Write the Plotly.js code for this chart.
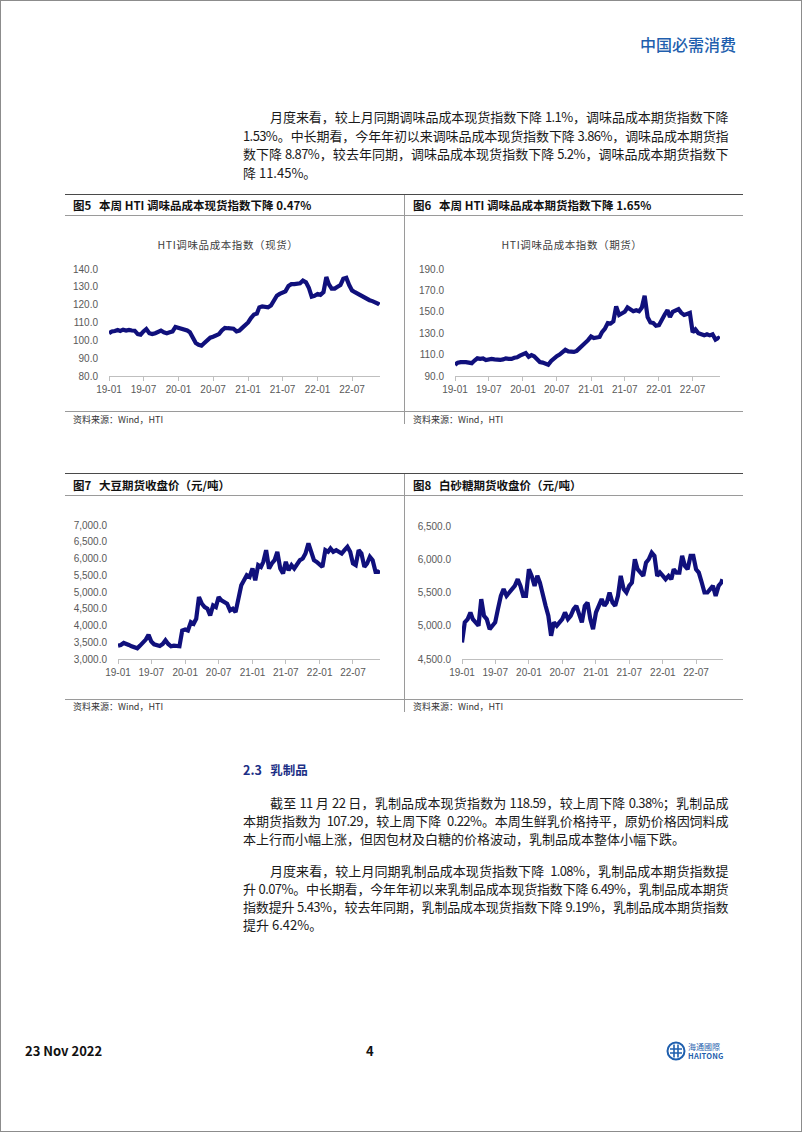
<!DOCTYPE html>
<html lang="zh-CN">
<head>
<meta charset="utf-8">
<script src="https://cdn.plot.ly/plotly-3.0.1.min.js"></script>
<style>
  html,body{margin:0;padding:0;background:#fff;}
  #page{position:relative;width:802px;height:1132px;overflow:hidden;background:#fff;font-family:"Noto Sans CJK SC","Noto Sans",sans-serif;color:#111;}
  .abs{position:absolute;}
  .frame{position:absolute;left:0;top:0;width:802px;height:1132px;box-sizing:border-box;border:1px solid #8c8c8c;}
  .ln{position:absolute;left:243px;width:485px;font-size:13px;line-height:18px;height:18px;text-align:justify;text-align-last:justify;letter-spacing:-0.6px;color:#1a1a1a;white-space:normal;}
  .ln.ind{left:270px;width:458px;}
  .ln.last{text-align:left;text-align-last:left;letter-spacing:0;}
  .hl{position:absolute;height:0;}
  .vl{position:absolute;width:0;}
  .ftitle{position:absolute;font-size:11.5px;font-weight:700;color:#111;white-space:nowrap;line-height:14px;}
  .src{position:absolute;font-size:9px;color:#333;white-space:nowrap;line-height:11px;}
  .ctitle{position:absolute;font-size:10.5px;color:#404040;white-space:nowrap;line-height:13px;letter-spacing:0.6px;transform:translateX(-50%);}
  .chart{position:absolute;}
</style>
</head>
<body>
<div id="page">
  <div class="frame"></div>

  <div class="abs" style="left:640px;top:34px;font-size:16px;font-weight:500;color:#1f5fae;white-space:nowrap;line-height:20px;">中国必需消费</div>

  <div class="ln ind" style="top:108px;">月度来看，较上月同期调味品成本现货指数下降 1.1%，调味品成本期货指数下降</div>
  <div class="ln" style="top:126.5px;">1.53%。中长期看，今年年初以来调味品成本现货指数下降 3.86%，调味品成本期货指</div>
  <div class="ln" style="top:145px;">数下降 8.87%，较去年同期，调味品成本现货指数下降 5.2%，调味品成本期货指数下</div>
  <div class="ln last" style="top:163.5px;">降 11.45%。</div>

  <!-- figure block 1 -->
  <div class="hl" style="left:65px;top:194px;width:678px;border-top:1.5px solid #4a4a4a;"></div>
  <div class="hl" style="left:65px;top:215px;width:678px;border-top:1px solid #9a9a9a;"></div>
  <div class="hl" style="left:65px;top:411px;width:678px;border-top:1px solid #9a9a9a;"></div>
  <div class="vl" style="left:404px;top:195px;height:229px;border-left:1px solid #9a9a9a;"></div>
  <div class="ftitle" style="left:73px;top:198px;">图5&nbsp;&nbsp; 本周 HTI 调味品成本现货指数下降 0.47%</div>
  <div class="ftitle" style="left:413px;top:198px;">图6&nbsp;&nbsp; 本周 HTI 调味品成本期货指数下降 1.65%</div>
  <div class="ctitle" style="left:228px;top:238px;">HTI调味品成本指数（现货）</div>
  <div class="ctitle" style="left:572px;top:238px;">HTI调味品成本指数（期货）</div>
  <div class="src" style="left:73px;top:414px;">资料来源：Wind，HTI</div>
  <div class="src" style="left:413px;top:414px;">资料来源：Wind，HTI</div>
  <div id="c1" class="chart" style="left:60px;top:258px;width:326px;height:140px;"></div>
  <div id="c2" class="chart" style="left:400px;top:258px;width:330px;height:140px;"></div>

  <!-- figure block 2 -->
  <div class="hl" style="left:65px;top:473px;width:678px;border-top:1.5px solid #4a4a4a;"></div>
  <div class="hl" style="left:65px;top:495px;width:678px;border-top:1px solid #9a9a9a;"></div>
  <div class="hl" style="left:65px;top:699px;width:678px;border-top:1px solid #9a9a9a;"></div>
  <div class="vl" style="left:404px;top:474px;height:238px;border-left:1px solid #9a9a9a;"></div>
  <div class="ftitle" style="left:73px;top:478px;">图7&nbsp;&nbsp; 大豆期货收盘价（元/吨）</div>
  <div class="ftitle" style="left:413px;top:478px;">图8&nbsp;&nbsp; 白砂糖期货收盘价（元/吨）</div>
  <div class="src" style="left:73px;top:701px;">资料来源：Wind，HTI</div>
  <div class="src" style="left:413px;top:701px;">资料来源：Wind，HTI</div>
  <div id="c3" class="chart" style="left:60px;top:512px;width:326px;height:170px;"></div>
  <div id="c4" class="chart" style="left:400px;top:512px;width:335px;height:170px;"></div>

  <!-- section 2.3 -->
  <div class="abs" style="left:243px;top:762px;font-size:12.5px;font-weight:700;color:#1c2f86;white-space:nowrap;line-height:16px;">2.3&nbsp;&nbsp; 乳制品</div>

  <div class="ln ind" style="top:794px;">截至 11 月 22 日，乳制品成本现货指数为 118.59，较上周下降 0.38%；乳制品成</div>
  <div class="ln" style="top:812px;">本期货指数为&nbsp; 107.29，较上周下降&nbsp; 0.22%。本周生鲜乳价格持平，原奶价格因饲料成</div>
  <div class="ln last" style="top:830px;">本上行而小幅上涨，但因包材及白糖的价格波动，乳制品成本整体小幅下跌。</div>

  <div class="ln ind" style="top:862px;">月度来看，较上月同期乳制品成本现货指数下降&nbsp; 1.08%，乳制品成本期货指数提</div>
  <div class="ln" style="top:880px;">升 0.07%。中长期看，今年年初以来乳制品成本现货指数下降 6.49%，乳制品成本期货</div>
  <div class="ln" style="top:898px;">指数提升 5.43%，较去年同期，乳制品成本现货指数下降 9.19%，乳制品成本期货指数</div>
  <div class="ln last" style="top:916px;">提升 6.42%。</div>

  <!-- footer -->
  <div class="abs" style="left:25px;top:1043px;font-size:13px;font-weight:700;color:#111;white-space:nowrap;line-height:16px;">23 Nov 2022</div>
  <div class="abs" style="left:366px;top:1043px;font-size:13px;font-weight:700;color:#111;line-height:16px;">4</div>
  <svg class="abs" style="left:666px;top:1041px;" width="20" height="20" viewBox="0 0 20 20">
    <circle cx="10" cy="10" r="8.5" fill="none" stroke="#1f5fae" stroke-width="2"/>
    <path d="M4 8 H16 M4 12 H16 M8 3.5 V16.5 M12 3.5 V16.5" stroke="#1f5fae" stroke-width="1.6" fill="none"/>
  </svg>
  <div class="abs" style="left:688px;top:1042px;font-size:8px;color:#1f5fae;white-space:nowrap;line-height:9px;">海通國際</div>
  <div class="abs" style="left:688px;top:1051px;font-size:7.5px;font-weight:700;color:#1f5fae;white-space:nowrap;line-height:9px;letter-spacing:0.2px;">HAITONG</div>
</div>

<script>
// semi-monthly sampling dates
const dates = [
'2019-01-01','2019-01-16','2019-02-01','2019-02-16','2019-03-01','2019-03-16','2019-04-01','2019-04-16','2019-05-01','2019-05-16','2019-06-01','2019-06-16',
'2019-07-01','2019-07-16','2019-08-01','2019-08-16','2019-09-01','2019-09-16','2019-10-01','2019-10-16','2019-11-01','2019-11-16','2019-12-01','2019-12-16',
'2020-01-01','2020-01-16','2020-02-01','2020-02-16','2020-03-01','2020-03-16','2020-04-01','2020-04-16','2020-05-01','2020-05-16','2020-06-01','2020-06-16',
'2020-07-01','2020-07-16','2020-08-01','2020-08-16','2020-09-01','2020-09-16','2020-10-01','2020-10-16','2020-11-01','2020-11-16','2020-12-01','2020-12-16',
'2021-01-01','2021-01-16','2021-02-01','2021-02-16','2021-03-01','2021-03-16','2021-04-01','2021-04-16','2021-05-01','2021-05-16','2021-06-01','2021-06-16',
'2021-07-01','2021-07-16','2021-08-01','2021-08-16','2021-09-01','2021-09-16','2021-10-01','2021-10-16','2021-11-01','2021-11-16','2021-12-01','2021-12-16',
'2022-01-01','2022-01-16','2022-02-01','2022-02-16','2022-03-01','2022-03-16','2022-04-01','2022-04-16','2022-05-01','2022-05-16','2022-06-01','2022-06-16',
'2022-07-01','2022-07-16','2022-08-01','2022-08-16','2022-09-01','2022-09-16','2022-10-01','2022-10-16','2022-11-01','2022-11-16','2022-11-22'
];

// HTI seasoning cost index (spot)
const spotIndex = [
104.0,105.0,105.2,105.8,105.3,106.0,105.5,105.8,105.5,105.4,103.5,103.2,105.0,106.3,104.0,103.5,104.0,104.5,105.5,104.5,104.0,104.5,105.0,107.5,
107.0,106.5,106.0,105.5,104.5,101.0,98.5,97.5,97.0,98.5,100.0,101.5,102.0,102.5,103.5,105.5,107.0,106.8,106.8,106.5,105.0,105.5,107.0,108.5,
110.0,112.5,114.5,115.0,118.5,119.0,118.5,118.5,119.5,122.5,125.0,126.0,127.0,127.5,130.5,131.5,131.5,131.5,132.0,133.5,132.5,129.5,124.5,125.0,
126.0,125.5,127.0,135.5,131.5,129.0,129.0,130.0,131.0,134.5,135.0,131.0,128.0,127.0,126.0,125.5,124.5,123.0,122.5,122.0,121.5,120.5,120.0
];

// HTI seasoning cost index (futures)
const futuresIndex = [
100.5,102.5,103.0,103.5,103.0,102.5,102.0,104.5,106.5,106.0,106.5,105.0,105.5,106.0,105.5,105.0,105.0,105.5,106.5,106.0,106.0,107.0,107.5,109.0,
110.5,111.5,108.0,109.5,108.5,106.0,103.0,102.5,101.0,100.5,104.0,106.5,108.5,110.0,112.0,114.5,113.0,113.0,112.5,113.5,116.0,118.5,121.0,123.5,
127.0,125.5,126.0,126.5,131.0,134.0,139.5,139.0,141.0,155.0,147.0,148.0,150.0,154.0,152.0,150.5,151.5,150.5,154.0,165.0,145.0,140.0,139.5,137.0,
137.5,143.0,147.5,151.5,145.0,150.0,151.5,152.5,149.0,147.0,148.0,149.0,131.0,133.5,130.0,128.5,128.0,129.0,128.0,129.0,124.0,125.5,124.5
];

// Soybean futures close (yuan/ton)
const soybean = [
3400,3420,3480,3430,3420,3380,3350,3320,3400,3480,3580,3720,3520,3440,3400,3390,3450,3560,3450,3380,3400,3390,3380,3850,
3880,3850,4100,4050,4200,4850,4650,4550,4500,4300,4600,4550,4850,4750,4700,4650,4450,4500,4400,4800,5200,5350,5500,5450,
5700,5350,5800,5750,5900,6250,5700,5850,5950,6200,5700,5550,5900,5650,5800,5700,5850,5950,6000,6150,6450,6200,5950,5900,
5800,5750,6250,6200,6300,6200,6250,6200,6150,6250,6350,6200,5850,5800,6250,6150,5750,5850,6050,5950,5600,5600,5650
];

// White sugar futures close (yuan/ton)
const sugar = [
4750,5050,5100,5200,5100,5050,5000,5400,5150,5100,4950,5000,5050,5250,5450,5550,5450,5500,5550,5600,5700,5600,5450,5450,
5850,5750,5600,5750,5650,5450,5300,5150,4850,5050,5000,5050,5100,5200,5100,5150,5250,5300,5150,5050,5300,5350,5100,4950,
5200,5300,5400,5300,5350,5500,5350,5300,5450,5750,5550,5500,5600,5650,6000,5850,5800,5750,5950,6000,6100,6050,5750,5800,
5750,5700,5750,5700,5850,5800,5800,6050,5900,5850,6050,6050,5850,5800,5650,5500,5500,5550,5600,5450,5600,5650,5700
];

const lineColor = '#10107c';
const tickFont = {family:'Liberation Sans, Arial, sans-serif', size:10, color:'#595959'};

function draw(id, y, yr, dtick, fmt, m, w, h) {
  const trace = {x: dates, y: y, type:'scatter', mode:'lines',
    line:{color: lineColor, width:4.2, shape:'linear'}, hoverinfo:'skip'};
  const layout = {
    width:w, height:h, margin:m, showlegend:false,
    paper_bgcolor:'rgba(0,0,0,0)', plot_bgcolor:'rgba(0,0,0,0)',
    xaxis:{type:'date', range:['2019-01-01','2022-11-25'], tick0:'2019-01-01', dtick:'M6',
      tickformat:'%y-%m', ticks:'outside', ticklen:4, tickcolor:'#bfbfbf', showline:true,
      linecolor:'#bfbfbf', linewidth:1, showgrid:false, zeroline:false, tickfont:tickFont, fixedrange:true},
    yaxis:{range:yr, tick0:yr[0], dtick:dtick, tickformat:fmt, ticks:'outside', ticklen:8,
      tickcolor:'rgba(0,0,0,0)', showline:false, showgrid:false, zeroline:false, tickfont:tickFont, fixedrange:true}
  };
  Plotly.newPlot(id, [trace], layout, {staticPlot:true, displayModeBar:false});
}

draw('c1', spotIndex, [80,140], 10, '.1f', {l:49, r:6, t:11, b:22, pad:0}, 326, 140);
draw('c2', futuresIndex, [90,190], 20, '.1f', {l:55, r:10, t:11, b:22, pad:0}, 330, 140);
draw('c3', soybean, [3000,7000], 500, ',.1f', {l:58, r:6, t:13, b:23, pad:0}, 326, 170);
draw('c4', sugar, [4500,6500], 500, ',.1f', {l:62, r:12, t:14, b:23, pad:0}, 335, 170);
</script>
</body>
</html>
